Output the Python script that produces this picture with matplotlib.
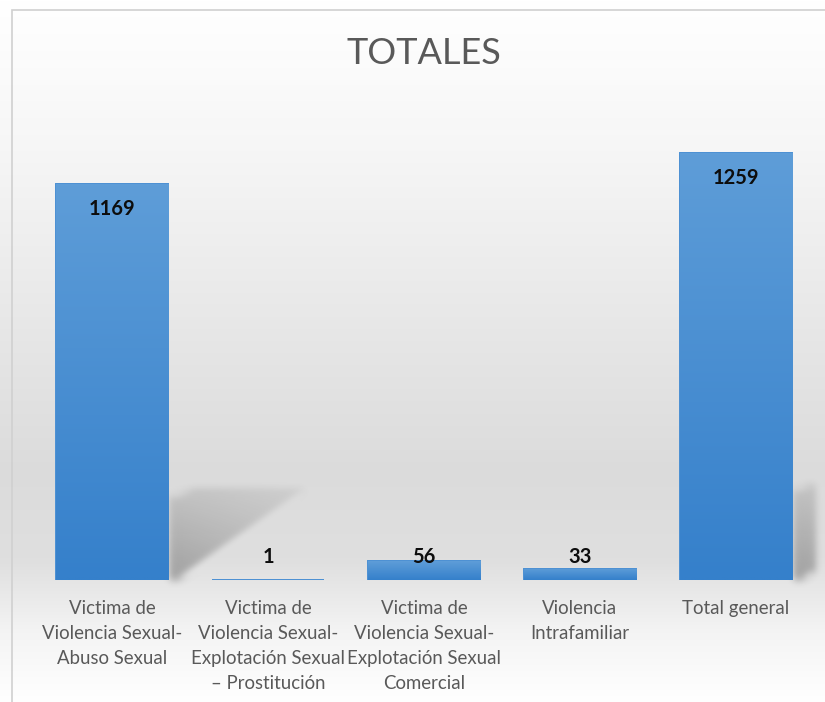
import numpy as np
import matplotlib
matplotlib.use("Agg")
import matplotlib.pyplot as plt
from matplotlib.colors import to_rgb
from matplotlib.patches import Polygon, Rectangle

# Datos del gráfico
categorias = [
    "Victima de\nViolencia Sexual-\nAbuso Sexual",
    "Victima de\nViolencia Sexual-\nExplotación Sexual\n– Prostitución",
    "Victima de\nViolencia Sexual-\nExplotación Sexual\nComercial",
    "Violencia\nIntrafamiliar",
    "Total general",
]
valores = [1169, 1, 56, 33, 1259]
titulo = "TOTALES"

W, H = 825, 702
plt.rcParams['font.family'] = ['Lato', 'DejaVu Sans']

fig = plt.figure(figsize=(W / 100, H / 100), dpi=100)

# Fondo con degradado vertical (blanco -> gris -> blanco)
fondo = fig.add_axes([0, 0, 1, 1], zorder=-10)
filas = np.arange(H)
grises = np.interp(filas, [0, 150, 300, 470, 560, 630, 702],
                   [1.0, 0.965, 0.915, 0.86, 0.875, 0.955, 1.0])
img = np.repeat(grises[:, None], 2, axis=1)
fondo.imshow(np.dstack([img, img, img]), aspect='auto', extent=[0, 1, 0, 1])
fondo.set_axis_off()

# Ejes principales
base_px, tope_px = 580, 130
ax = fig.add_axes([34 / W, (H - base_px) / H, 780 / W, (base_px - tope_px) / H])
ax.set_facecolor('none')
x = np.arange(len(valores))
ymax = max(valores) * (base_px - tope_px) / (base_px - 153)
px_por_unidad = (base_px - tope_px) / ymax

barras = ax.bar(x, valores, width=0.72, color='#4a8fd3', edgecolor='#4a8fd3',
                linewidth=1.4, zorder=3)


def desenfoque(sigma):
    def filtro(im, dpi):
        pad = int(3 * sigma)
        im = np.pad(im, ((pad, pad), (pad, pad), (0, 0)))
        k = np.exp(-0.5 * (np.arange(-pad, pad + 1) / sigma) ** 2)
        k /= k.sum()
        a = np.zeros_like(im)
        for i, w in enumerate(k):
            a += w * np.roll(im, i - pad, axis=0)
        b = np.zeros_like(a)
        for i, w in enumerate(k):
            b += w * np.roll(a, i - pad, axis=1)
        return b, -pad, -pad
    return filtro


arriba = np.array(to_rgb('#5e9dd8'))
abajo = np.array(to_rgb('#3580cb'))
grad = np.linspace(0, 1, 64)[:, None]
colores_barra = arriba * (1 - grad[..., None]) + abajo * grad[..., None]
colores_barra = np.repeat(colores_barra, 2, axis=1)

for b, v in zip(barras, valores):
    x0, x1 = b.get_x(), b.get_x() + b.get_width()
    # sombra en perspectiva (solo visible en las barras altas)
    if v > 0.1 * max(valores):
        s = 0.227 * v
        sombra = Polygon([(x1 + 0.02, 0), (x1 + 0.02, s * 0.93), (x1 + 0.17, s),
                          (x1 + 0.88, s), (x1 + 0.08, 0.005 * v)],
                         closed=True, facecolor='none', edgecolor='none')
        ax.add_patch(sombra)
        alfa = np.linspace(0.22, 0.55, 32)[:, None]
        alfa = alfa * np.linspace(1.0, 0.55, 16)[None, :]
        simg = np.dstack([np.full((32, 16), 0.42)] * 3 + [alfa])
        im = ax.imshow(simg, aspect='auto', extent=[x1, x1 + 0.9, 0, s], zorder=2,
                       interpolation='bilinear')
        im.set_clip_path(sombra)
        im.set_agg_filter(desenfoque(4))
    # degradado de la barra (no en las barras de menos de 3 px)
    if v * px_por_unidad > 3:
        gi = ax.imshow(colores_barra, aspect='auto', extent=[x0, x1, 0, v],
                       zorder=3.1, interpolation='bilinear')
        gi.set_clip_path(b)

# Etiquetas de datos (dentro del extremo, con mínimo)
desp = 25 / px_por_unidad
minimo = 23 / px_por_unidad
for xi, v in zip(x, valores):
    ax.text(xi, max(v - desp, minimo), str(v), ha='center', va='center',
            fontsize=14.5, fontweight='bold', color='#0d0d0d', zorder=5)

ax.set_xlim(-0.5, len(valores) - 0.5)
ax.set_ylim(0, ymax)
ax.set_xticks(x)
ax.set_xticklabels(categorias, fontsize=13.4, color='#595959', linespacing=1.56)
ax.tick_params(axis='x', length=0, pad=14.5)
ax.set_yticks([])
for sp in ax.spines.values():
    sp.set_visible(False)

fig.text(424 / W, 1 - 53 / H, titulo, ha='center', va='center', fontsize=26,
         color='#595959')

# Borde del área del gráfico
fig.patches.append(Rectangle((12 / W, -0.1), 1.2, (H - 10) / H + 0.1,
                             transform=fig.transFigure, fill=False,
                             edgecolor='#d0d0d0', linewidth=1.2))

fig.savefig('out.png', dpi=100)
